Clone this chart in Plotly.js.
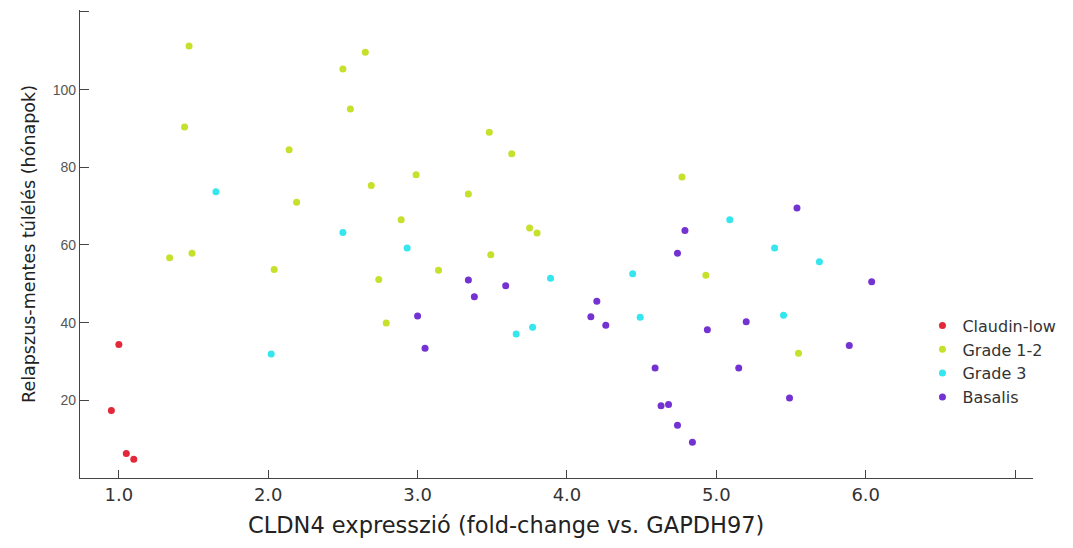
<!DOCTYPE html>
<html>
<head>
<meta charset="utf-8">
<script src="https://cdn.plot.ly/plotly-3.0.1.min.js"></script>
<style>
  html, body { margin: 0; padding: 0; background: #ffffff; }
  #chart { width: 1073px; height: 548px; }
</style>
</head>
<body>
<div id="chart"></div>
<script>
// Data
const claudinX = [0.95, 1.00, 1.05, 1.10];
const claudinY = [17.4, 34.4, 6.3, 4.8];

const grade12X = [1.47, 1.44, 2.14, 2.19, 1.34, 1.49, 2.04, 2.50, 2.55, 2.65, 3.48, 3.63, 2.99, 2.69, 3.34, 2.89, 3.75, 3.80, 3.49, 3.14, 2.74, 2.79, 4.77, 4.93, 5.55];
const grade12Y = [111.2, 90.4, 84.5, 71.0, 56.7, 57.9, 53.7, 105.3, 95.0, 109.6, 89.0, 83.5, 78.1, 75.3, 73.1, 66.5, 64.4, 63.1, 57.5, 53.5, 51.1, 39.9, 77.5, 52.2, 32.1];

const grade3X = [1.65, 2.50, 2.02, 2.93, 3.89, 4.44, 3.66, 3.77, 4.49, 5.09, 5.39, 5.69, 5.45];
const grade3Y = [73.7, 63.2, 31.9, 59.2, 51.4, 52.6, 37.1, 38.8, 41.4, 66.5, 59.2, 55.7, 41.9];

const basalisX = [3.34, 3.38, 3.59, 3.00, 3.05, 4.20, 4.16, 4.26, 4.59, 4.63, 4.68, 4.74, 4.84, 4.79, 4.74, 5.54, 6.04, 4.94, 5.20, 5.15, 5.89, 5.49];
const basalisY = [51.0, 46.7, 49.5, 41.7, 33.4, 45.5, 41.5, 39.3, 28.3, 18.6, 18.9, 13.6, 9.2, 63.7, 57.9, 69.5, 50.5, 38.2, 40.2, 28.3, 34.1, 20.6];

const seriesNames = ["Claudin-low", "Grade 1-2", "Grade 3", "Basalis"];
const xTickVals = [1, 2, 3, 4, 5, 6, 7];
const xTickText = ["1.0", "2.0", "3.0", "4.0", "5.0", "6.0", ""];
const yTickVals = [20, 40, 60, 80, 100, 120];
const yTickText = ["20", "40", "60", "80", "100", ""];

const colors = ["#e3283a", "#c6e02c", "#36e6ee", "#7432d2"];
const xs = [claudinX, grade12X, grade3X, basalisX];
const ys = [claudinY, grade12Y, grade3Y, basalisY];

const traces = seriesNames.map((name, i) => ({
  type: "scatter",
  mode: "markers",
  name: name,
  x: xs[i],
  y: ys[i],
  marker: { color: colors[i], size: 7, line: { width: 0 } }
}));

const wide = "DejaVu Sans, Verdana, sans-serif";

const layout = {
  width: 1073,
  height: 548,
  paper_bgcolor: "#ffffff",
  plot_bgcolor: "#ffffff",
  margin: { l: 80, r: 40, t: 10, b: 70 },
  font: { family: wide, color: "#333333" },
  showlegend: true,
  legend: {
    x: 0.884, y: 0.362, xanchor: "left", yanchor: "top",
    bgcolor: "rgba(0,0,0,0)",
    font: { size: 16, color: "#333333", family: wide },
    tracegroupgap: 0
  },
  xaxis: {
    range: [0.74, 7.12],
    tickmode: "array",
    tickvals: xTickVals,
    ticktext: xTickText,
    ticks: "inside",
    ticklen: 8,
    tickcolor: "#444444",
    showline: true,
    linecolor: "#444444",
    linewidth: 1.2,
    showgrid: false,
    zeroline: false,
    mirror: false,
    tickfont: { size: 18, color: "#333333", family: wide }
  },
  yaxis: {
    range: [0, 120.5],
    tickmode: "array",
    tickvals: yTickVals,
    ticktext: yTickText,
    ticks: "inside",
    ticklen: 9,
    tickcolor: "#444444",
    showline: true,
    linecolor: "#444444",
    linewidth: 1.2,
    showgrid: false,
    zeroline: false,
    tickfont: { size: 14, color: "#555555", family: "Liberation Sans, Arial, sans-serif" },
    title: { text: "Relapszus-mentes túlélés (hónapok)", font: { size: 17.5, color: "#222222", family: wide }, standoff: 12 }
  },
  annotations: [{
    text: "CLDN4 expresszió (fold-change vs. GAPDH97)",
    xref: "paper", yref: "paper",
    x: (506 - 80) / 953, y: -0.1,
    xanchor: "center", yanchor: "middle",
    showarrow: false,
    font: { size: 22.5, color: "#222222", family: wide }
  }]
};

Plotly.newPlot("chart", traces, layout, { staticPlot: true, displayModeBar: false });
</script>
</body>
</html>
